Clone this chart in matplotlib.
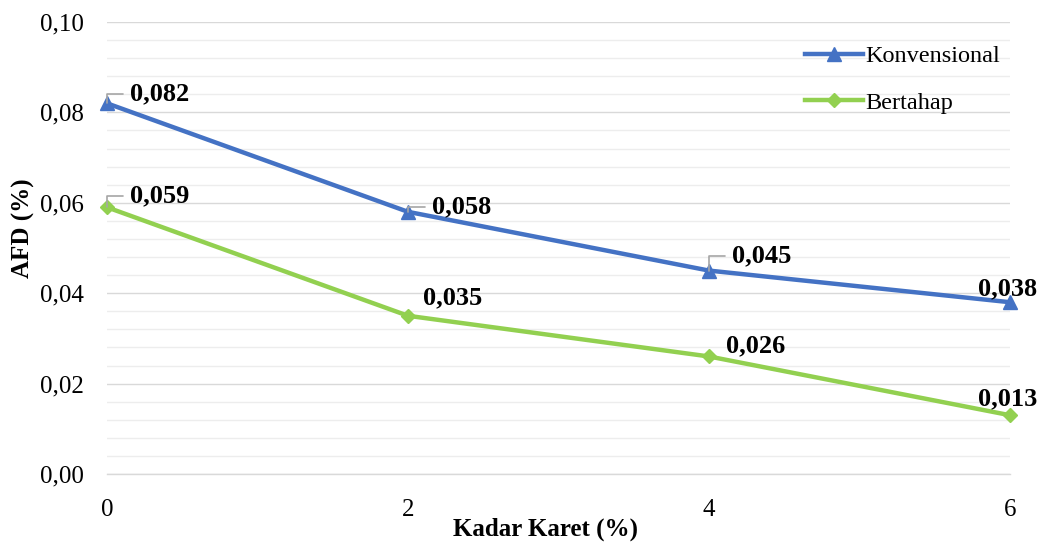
import matplotlib
matplotlib.use('Agg')
import matplotlib.pyplot as plt
from matplotlib.ticker import MultipleLocator, FuncFormatter

plt.rcParams['font.family'] = ['Liberation Serif', 'DejaVu Serif']

# data
kadar = [0, 2, 4, 6]
konvensional = [0.082, 0.058, 0.045, 0.038]
bertahap = [0.059, 0.035, 0.026, 0.013]

BLUE = '#4472C4'
GREEN = '#92D050'

# label offsets (points) and whether a leader line is drawn
konv_offsets = [(16.5, 7), (17, 3.5), (16.5, 10.5), (-2, 10)]
konv_leader = [True, True, True, False]
bert_offsets = [(16.5, 8), (32, 13), (33.5, 7.5), (-2, 12)]
bert_leader = [True, False, False, False]

fig = plt.figure(figsize=(10.41, 5.44), dpi=100)
ax = fig.add_axes([0.1028, 0.1287, 0.8674, 0.8309])

ax.plot(kadar, konvensional, color=BLUE, lw=3.2, marker='^', ms=10,
        label='Konvensional', zorder=3, clip_on=False)
ax.plot(kadar, bertahap, color=GREEN, lw=3.2, marker='D', ms=7,
        label='Bertahap', zorder=3, clip_on=False)


def fmt(v):
    return f'{v:.3f}'.replace('.', ',')


def add_labels(xs, ys, offsets, leaders):
    for x, y, (dx, dy), lead in zip(xs, ys, offsets, leaders):
        kw = dict(textcoords='offset points', va='center',
                  fontsize=19, fontweight='bold', color='black')
        if lead:
            ax.annotate(fmt(y), xy=(x, y), xytext=(dx, dy), ha='left',
                        arrowprops=dict(arrowstyle='-', color='#A6A6A6', lw=1.2,
                                        shrinkA=3, shrinkB=0,
                                        connectionstyle='angle,angleA=0,angleB=90,rad=0'),
                        **kw)
        else:
            ax.annotate(fmt(y), xy=(x, y), xytext=(dx, dy), ha='center', **kw)


add_labels(kadar, konvensional, konv_offsets, konv_leader)
add_labels(kadar, bertahap, bert_offsets, bert_leader)

ax.set_xlim(0, 6)
ax.set_ylim(0, 0.10)
ax.xaxis.set_major_locator(MultipleLocator(2))
ax.yaxis.set_major_locator(MultipleLocator(0.02))
ax.yaxis.set_minor_locator(MultipleLocator(0.004))
ax.yaxis.set_major_formatter(FuncFormatter(lambda v, p: f'{v:.2f}'.replace('.', ',')))

ax.grid(axis='y', which='major', color='#D9D9D9', lw=1.0, zorder=0)
ax.grid(axis='y', which='minor', color='#EDEDED', lw=1.0, zorder=0)
ax.set_axisbelow(True)

for side in ('top', 'right', 'left'):
    ax.spines[side].set_visible(False)
ax.spines['bottom'].set_color('#D9D9D9')
ax.spines['bottom'].set_linewidth(1.0)
ax.tick_params(axis='both', which='both', length=0, labelsize=18, colors='black')
ax.tick_params(axis='x', pad=18)
ax.tick_params(axis='y', pad=17)

ax.set_xlabel('Kadar Karet (%)', fontsize=18, fontweight='bold')
ax.set_ylabel('AFD (%)', fontsize=18, fontweight='bold')
ax.xaxis.set_label_coords(0.486, -0.097)
ax.yaxis.set_label_coords(-0.0797, 0.544)

ax.legend(loc='upper right', bbox_to_anchor=(1.0, 0.97), frameon=False,
          fontsize=17.5, handlelength=2.4, handletextpad=0.1, labelspacing=1.0,
          borderaxespad=0)

fig.savefig('out.png', dpi=100, facecolor='white')
